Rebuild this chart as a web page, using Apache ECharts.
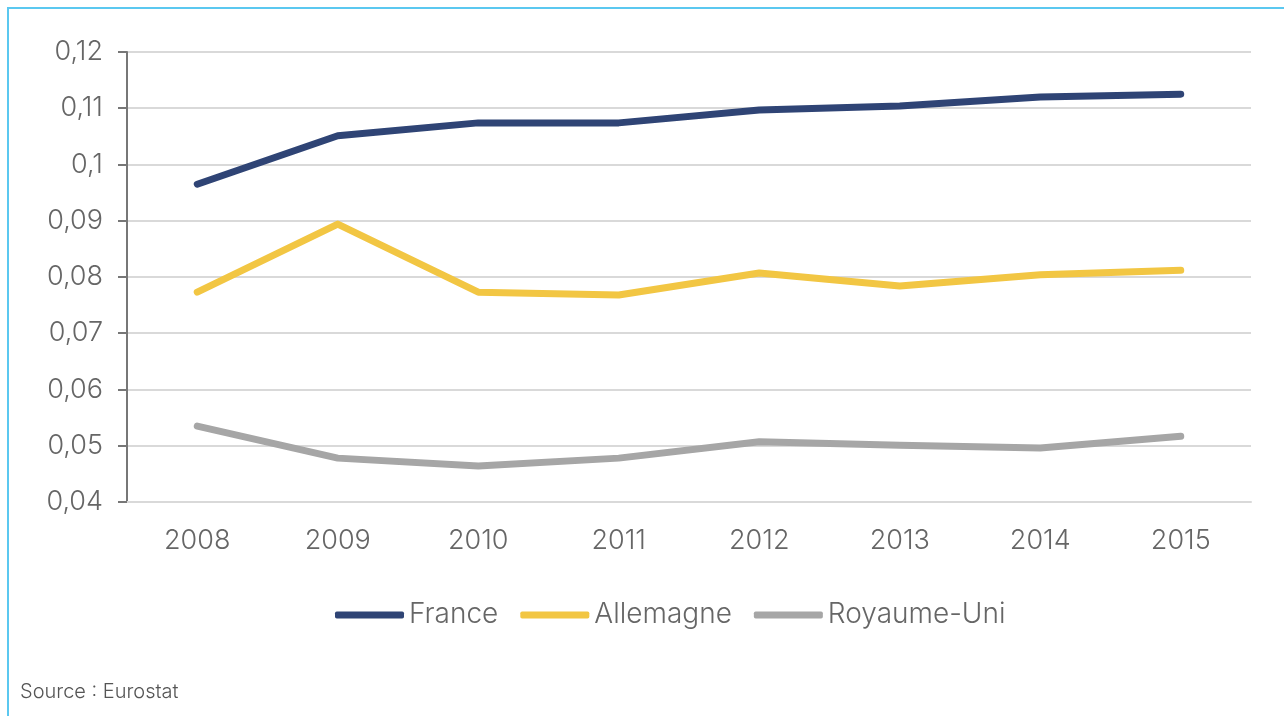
<!DOCTYPE html>
<html><head><meta charset="utf-8">
<script src="https://cdn.jsdelivr.net/npm/echarts@6/dist/echarts.min.js"></script>
<style>
html,body{margin:0;padding:0;background:#fff;}
#frame{position:absolute;left:7px;top:7px;width:1277px;height:709px;border-top:2px solid #5bc8f0;border-left:2px solid #5bc8f0;box-sizing:border-box;}
#chart{position:absolute;left:0;top:0;width:1284px;height:716px;}
#src{position:absolute;left:20px;top:679px;font-family:Inter,"Liberation Sans",Arial,sans-serif;font-weight:300;font-size:20px;color:#555;}
</style></head>
<body>
<div id="frame"></div>
<div id="chart"></div>
<div id="src">Source : Eurostat</div>
<script>
const years = ['2008','2009','2010','2011','2012','2013','2014','2015'];
const france = [0.0965,0.1051,0.1074,0.1074,0.1097,0.1104,0.1120,0.1125];
const allemagne = [0.0773,0.0894,0.0773,0.0768,0.0807,0.0784,0.0804,0.0812];
const royaumeUni = [0.0535,0.0478,0.0464,0.0478,0.0507,0.0501,0.0496,0.0517];
const seriesNames = ['France','Allemagne','Royaume-Uni'];
const colors = ['#2f4475','#f2c643','#a6a6a6'];

const chart = echarts.init(document.getElementById('chart'), null, {renderer:'canvas'});
const font = 'Inter, "Liberation Sans", Arial, sans-serif';
function mk(name, data, color){
  return {name, type:'line', data, symbol:'none', smooth:false,
    lineStyle:{color, width:7, cap:'round', join:'round'}, itemStyle:{color}};
}
chart.setOption({
  animation:false,
  backgroundColor:'transparent',
  grid:{left:127,right:33,top:52,bottom:214},
  legend:{left:330, top:596, itemWidth:69, itemHeight:7, itemGap:22,
    icon:'roundRect',
    textStyle:{fontFamily:font, fontWeight:300, fontSize:28, color:'#666'},
    data:seriesNames},
  xAxis:{type:'category', data:years, boundaryGap:true,
    axisLine:{show:true, lineStyle:{color:'#d9d9d9', width:2}},
    axisTick:{show:false},
    axisLabel:{fontFamily:font, fontWeight:300, fontSize:27, color:'#666', margin:25}},
  yAxis:{type:'value', min:0.04, max:0.12, interval:0.01,
    axisLine:{show:true, lineStyle:{color:'#777', width:2}},
    axisTick:{show:true, length:9, lineStyle:{color:'#777', width:2}},
    splitLine:{show:true, lineStyle:{color:'#d9d9d9', width:2}},
    axisLabel:{fontFamily:font, fontWeight:300, fontSize:27, color:'#666', margin:24,
      formatter:v=>String(+v.toFixed(2)).replace('.',',')}},
  series:[mk(seriesNames[0],france,colors[0]), mk(seriesNames[1],allemagne,colors[1]), mk(seriesNames[2],royaumeUni,colors[2])]
});
</script>
</body></html>
